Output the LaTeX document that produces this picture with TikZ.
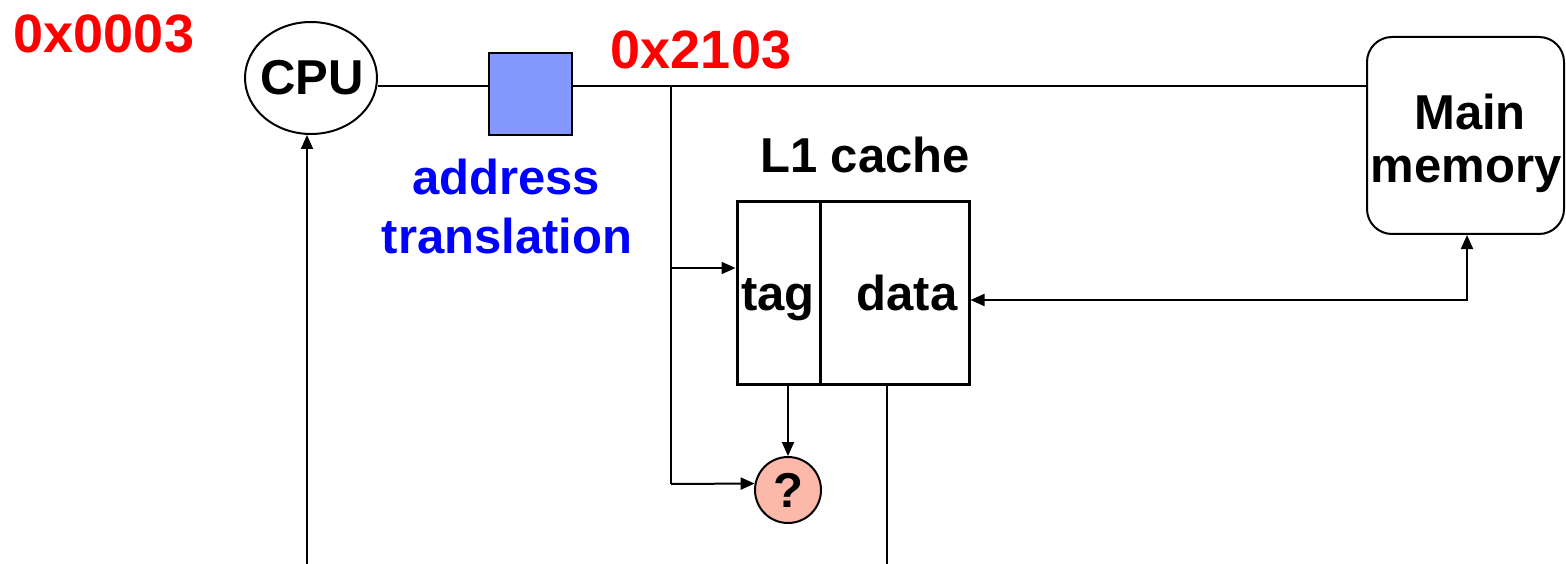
\documentclass[tikz,border=0pt]{standalone}
\usepackage{fontspec}
\setmainfont{Liberation Sans}
\usetikzlibrary{arrows.meta,shapes.geometric}
\definecolor{hexred}{HTML}{FF0000}
\definecolor{xlblue}{HTML}{0000FF}
\definecolor{tlbfill}{HTML}{8499FF}
\definecolor{qfill}{HTML}{FCB9AA}
\begin{document}
\begin{tikzpicture}[x=1pt,y=-1pt,
  lbl/.style={font=\fontsize{49}{58}\selectfont\bfseries, inner sep=0pt},
  hexlbl/.style={font=\fontsize{54}{60}\selectfont\bfseries, inner sep=0pt, text=hexred},
  wire/.style={line width=2pt},
  tip/.style={Triangle[length=14pt,width=12pt]},
  arr/.style={wire,-{Triangle[length=14pt,width=12pt]}},
  boxline/.style={draw, line width=3pt, inner sep=0pt}]
\useasboundingbox (0,0) rectangle (1566,564);

% nodes
\node[draw, ellipse, line width=2pt, minimum width=132pt, minimum height=112pt, inner sep=0pt] (cpu) at (311,78) {};
\node[lbl, anchor=base] (cputxt) at (312,95) {CPU};
\node[draw, line width=2pt, fill=tlbfill, minimum width=83pt, minimum height=82pt, inner sep=0pt] (tlb) at (530.5,94) {};
\node[draw, line width=2pt, rounded corners=25pt, minimum width=197pt, minimum height=197pt, inner sep=0pt] (mem) at (1465.5,135.5) {};
\node[lbl, anchor=base] (memA) at (1470,130) {Main};
\node[lbl, anchor=base] (memB) at (1466,183) {memory};

\node[boxline, minimum width=83pt, minimum height=182pt] (tag) at (778.5,293) {};
\node[boxline, minimum width=149pt, minimum height=182pt] (data) at (894.5,293) {};
\node[lbl, anchor=base] (tagtxt) at (778,310) {tag};
\node[lbl, anchor=base] (datatxt) at (907,310) {data};
\node[lbl, anchor=base] (l1) at (865,173) {L1 cache};

\node[circle, draw, line width=2pt, fill=qfill, minimum size=66pt, inner sep=0pt,
      font=\fontsize{49}{58}\selectfont\bfseries] (q) at (788,490) {?};

\node[hexlbl, anchor=base] (h1) at (104,53) {0x0003};
\node[hexlbl, anchor=base] (h2) at (701,69) {0x2103};
\node[lbl, anchor=base, text=xlblue] (xa) at (506,195) {address};
\node[lbl, anchor=base, text=xlblue] (xb) at (507,254) {translation};

% junction coordinates
\coordinate (j1) at (671,86);
\coordinate (j2) at (671,268);
\coordinate (j3) at (671,484);
\coordinate (j4) at (1467,300);
\coordinate (dout) at (887,564);
\coordinate (cin) at (307,564);

% connectors
\draw[wire] (cpu.east |- j1) -- (tlb.west |- j1);
\draw[wire] (tlb.east |- j1) -- (mem.west |- j1);
\draw[wire] (j1) -- (j3);
\draw[arr] (j2) -- (tag.west |- j2);
\draw[arr] (j3) -- (q.169.5);
\draw[arr] (q.north |- tag.south) -- (q.north);
\draw[wire,{Triangle[length=14pt,width=12pt]}-{Triangle[length=14pt,width=12pt]}]
  (data.east |- j4) -- (j4) -- (mem.south -| j4);
\draw[wire] (data.south -| dout) -- (dout);
\draw[arr] (cin) -- (cpu.south -| cin);
\end{tikzpicture}
\end{document}
